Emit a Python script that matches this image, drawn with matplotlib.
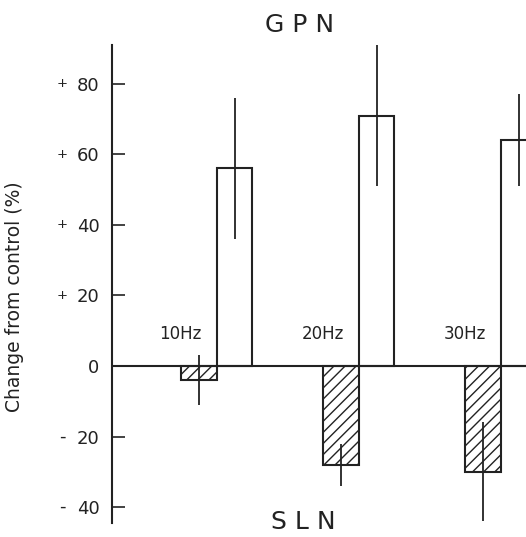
import matplotlib
matplotlib.use("Agg")
import matplotlib.pyplot as plt
import numpy as np

plt.rcParams['font.family'] = ['DejaVu Sans']
plt.rcParams['hatch.linewidth'] = 1.0

freqs = ["10Hz", "20Hz", "30Hz"]
sln_vals = [-4, -28, -30]
sln_err = [7, 6, 14]
gpn_vals = [56, 71, 64]
gpn_err = [20, 20, 13]
yticks = [-40, -20, 0, 20, 40, 60, 80]
ytick_nums = ["40", "20", "0", "20", "40", "60", "80"]
ytick_signs = ["-", "-", "", "+", "+", "+", "+"]

ink = '#222222'
fig = plt.figure(figsize=(5.26, 5.37), dpi=100)
ax = fig.add_axes([112/526, 14/537, 1 - 112/526, (523-45)/537])

x = np.arange(len(freqs))
w = 0.25
ax.bar(x - w/2, sln_vals, w, facecolor='white', edgecolor=ink, hatch='///', linewidth=1.5, zorder=2)
ax.bar(x + w/2, gpn_vals, w, facecolor='white', edgecolor=ink, linewidth=1.5, zorder=2)
ax.errorbar(x - w/2, sln_vals, yerr=sln_err, fmt='none', ecolor=ink, elinewidth=1.3, capsize=0, zorder=3, clip_on=False)
ax.errorbar(x + w/2, gpn_vals, yerr=gpn_err, fmt='none', ecolor=ink, elinewidth=1.3, capsize=0, zorder=3, clip_on=False)

ax.axhline(0, color=ink, linewidth=1.5, zorder=4)

for xi, lab in zip(x, freqs):
    ax.text(xi - w/2 - 0.13, 9, lab, ha='center', va='center', fontsize=12, color=ink)

ax.set_xlim(-0.739, 2.176)
ax.set_ylim(-44.5, 91)
ax.set_yticks(yticks)
ax.set_yticklabels(ytick_nums, fontsize=13, color=ink)
ax.tick_params(axis='y', direction='in', length=9, width=1.2, pad=9, colors=ink)
for yv, sg in zip(yticks, ytick_signs):
    if sg:
        ax.text(-0.121, yv, sg, transform=ax.get_yaxis_transform(), ha='center', va='center',
                fontsize=9.5 if sg == '+' else 13, color=ink)
ax.set_xticks([])
for s in ['top', 'right', 'bottom']:
    ax.spines[s].set_visible(False)
ax.spines['left'].set_linewidth(1.5)
ax.spines['left'].set_color(ink)
ax.set_ylabel("Change from control (%)", fontsize=13.5, color=ink, labelpad=0)
ax.yaxis.set_label_coords(-0.213, 0.474)

fig.text(300/526, 1 - 25/537, "G P N", ha='center', va='center', fontsize=18, color=ink)
fig.text(303/526, 1 - 522/537, "S L N", ha='center', va='center', fontsize=18, color=ink)

fig.savefig("out.png", dpi=100)
